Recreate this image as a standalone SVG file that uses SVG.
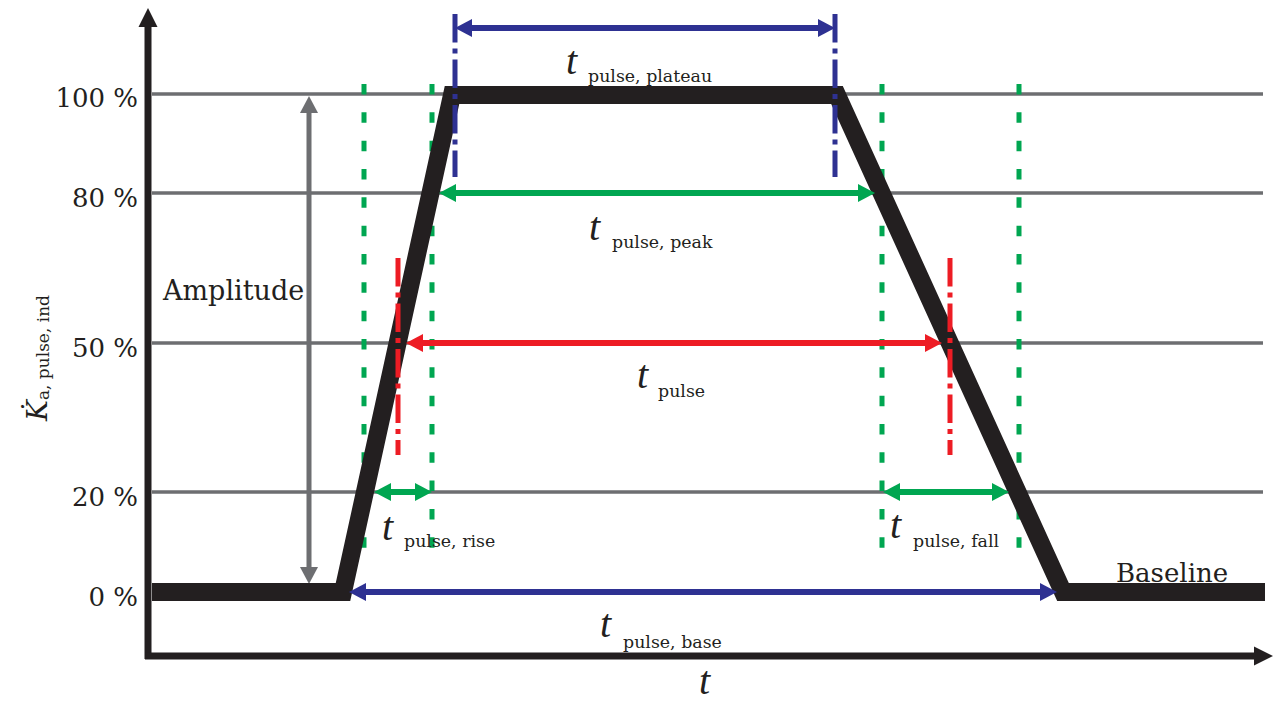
<svg xmlns="http://www.w3.org/2000/svg" width="1276" height="702" viewBox="0 0 1276 702">
  <style>
    .grid{stroke:#6d6e71;stroke-width:3.5;fill:none}
    .axis{stroke:#231f20;stroke-width:7;fill:none}
    .sig{fill:none;stroke:#231f20;stroke-width:18;stroke-linejoin:miter;stroke-miterlimit:10}
    .gdash{stroke:#00a651;stroke-width:5;stroke-dasharray:10.5 17.83;fill:none}
    .ddblue{stroke:#2e3192;stroke-width:5;stroke-dasharray:28.5 6 5 6;fill:none}
    .ddred{stroke:#ed1c24;stroke-width:5;stroke-dasharray:28.5 6 5 6;fill:none}
    .dim{stroke-width:6;fill:none}
    .lbl{font-family:"DejaVu Serif",serif;fill:#231f20}
    .tt{font-family:"Liberation Serif",serif;font-style:italic;font-size:40px;fill:#231f20}
    .sub{font-family:"DejaVu Serif",serif;font-size:17.4px;fill:#231f20}
    .pct{font-family:"DejaVu Serif",serif;font-size:26px;fill:#231f20;text-anchor:end}
  </style>
  <defs>
    <marker id="ah-blue" viewBox="0 0 17 18" refX="10" refY="9" markerWidth="17" markerHeight="18" markerUnits="userSpaceOnUse" orient="auto-start-reverse"><path d="M0,0 L17,9 L0,18 z" fill="#2e3192"/></marker>
    <marker id="ah-green" viewBox="0 0 17 18" refX="10" refY="9" markerWidth="17" markerHeight="18" markerUnits="userSpaceOnUse" orient="auto-start-reverse"><path d="M0,0 L17,9 L0,18 z" fill="#00a651"/></marker>
    <marker id="ah-red" viewBox="0 0 17 18" refX="10" refY="9" markerWidth="17" markerHeight="18" markerUnits="userSpaceOnUse" orient="auto-start-reverse"><path d="M0,0 L17,9 L0,18 z" fill="#ed1c24"/></marker>
    <marker id="ah-gray" viewBox="0 0 17 18" refX="10" refY="9" markerWidth="17" markerHeight="18" markerUnits="userSpaceOnUse" orient="auto-start-reverse"><path d="M0,0 L17,9 L0,18 z" fill="#6d6e71"/></marker>
  </defs>

  <g id="gridlines">
    <line class="grid" x1="152" y1="94" x2="1263" y2="94"/>
    <line class="grid" x1="152" y1="193" x2="1263" y2="193"/>
    <line class="grid" x1="152" y1="343" x2="1263" y2="343"/>
    <line class="grid" x1="152" y1="492" x2="1263" y2="492"/>
  </g>

  <g id="green-guides">
    <line class="gdash" x1="364" y1="84" x2="364" y2="549"/>
    <line class="gdash" x1="432" y1="84" x2="432" y2="549"/>
    <line class="gdash" x1="882" y1="84" x2="882" y2="549"/>
    <line class="gdash" x1="1019" y1="84" x2="1019" y2="549"/>
  </g>

  <g id="amplitude">
    <line stroke="#6d6e71" stroke-width="5" x1="309" y1="103" x2="309" y2="577" marker-start="url(#ah-gray)" marker-end="url(#ah-gray)"/>
    <text class="lbl" x="163" y="300" font-size="27">Amplitude</text>
  </g>

  <g id="signal">
    <polyline class="sig" points="152,592 343,592 452,95 837,95 1063,592 1265,592"/>
  </g>

  <g id="blue-guides">
    <line class="ddblue" x1="455" y1="14" x2="455" y2="177"/>
    <line class="ddblue" x1="835" y1="14" x2="835" y2="177"/>
  </g>
  <g id="red-guides">
    <line class="ddred" x1="398" y1="258" x2="398" y2="455"/>
    <line class="ddred" x1="950" y1="258" x2="950" y2="455"/>
  </g>

  <g id="axes">
    <line class="axis" x1="148" y1="24" x2="148" y2="659"/>
    <polygon points="148,8 138.5,27 157.5,27" fill="#231f20"/>
    <line class="axis" x1="145" y1="656" x2="1256" y2="656"/>
    <polygon points="1273,656 1254,646.5 1254,665.5" fill="#231f20"/>
  </g>

  <g id="connectors">
    <line class="dim" stroke="#2e3192" x1="462" y1="28" x2="828" y2="28" marker-start="url(#ah-blue)" marker-end="url(#ah-blue)"/>
    <line class="dim" stroke="#00a651" x1="446" y1="193" x2="868" y2="193" marker-start="url(#ah-green)" marker-end="url(#ah-green)"/>
    <line class="dim" stroke="#ed1c24" x1="413" y1="343" x2="935" y2="343" marker-start="url(#ah-red)" marker-end="url(#ah-red)"/>
    <line class="dim" stroke="#00a651" x1="381" y1="492" x2="425" y2="492" marker-start="url(#ah-green)" marker-end="url(#ah-green)"/>
    <line class="dim" stroke="#00a651" x1="890" y1="492" x2="1002" y2="492" marker-start="url(#ah-green)" marker-end="url(#ah-green)"/>
    <line class="dim" stroke="#2e3192" x1="356" y1="592" x2="1050" y2="592" marker-start="url(#ah-blue)" marker-end="url(#ah-blue)"/>
  </g>

  <g id="y-labels">
    <text class="pct" x="138" y="107">100 %</text>
    <text class="pct" x="138" y="207">80 %</text>
    <text class="pct" x="138" y="357">50 %</text>
    <text class="pct" x="138" y="506">20 %</text>
    <text class="pct" x="138" y="606">0 %</text>
    <text transform="translate(47,421) rotate(-90)" class="lbl"><tspan font-style="italic" font-size="28">K&#x307;</tspan><tspan font-size="17" dy="2">a, pulse, ind</tspan></text>
  </g>

  <g id="t-plateau"><text class="tt" x="566" y="74">t</text><text class="sub" x="588" y="82">pulse, plateau</text></g>
  <g id="t-peak"><text class="tt" x="589" y="240">t</text><text class="sub" x="612" y="248">pulse, peak</text></g>
  <g id="t-pulse"><text class="tt" x="637" y="388">t</text><text class="sub" x="658" y="397">pulse</text></g>
  <g id="t-rise"><text class="tt" x="382" y="540">t</text><text class="sub" x="404" y="547">pulse, rise</text></g>
  <g id="t-fall"><text class="tt" x="890" y="538">t</text><text class="sub" x="913" y="547">pulse, fall</text></g>
  <g id="t-base"><text class="tt" x="600" y="637">t</text><text class="sub" x="623" y="648">pulse, base</text></g>
  <g id="t-axis"><text class="tt" x="699" y="694">t</text></g>
  <g id="baseline-label"><text class="lbl" x="1116" y="582" font-size="26">Baseline</text></g>
</svg>
